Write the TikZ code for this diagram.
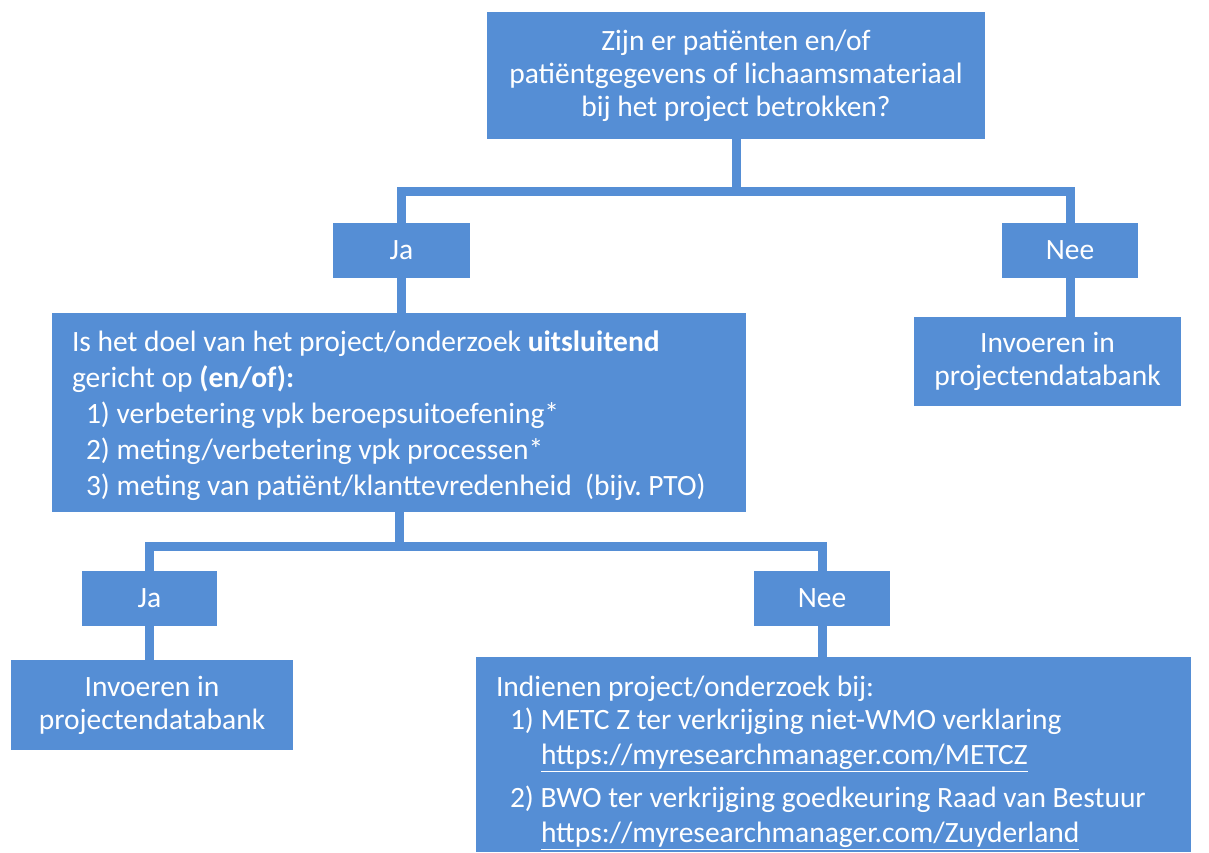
\documentclass[tikz,border=0pt]{standalone}
\usepackage{fontspec}
\setmainfont{Carlito}
\definecolor{boxblue}{HTML}{558ED5}

\begin{document}
\frenchspacing
\begin{tikzpicture}[x=1pt,y=-1pt,
  box/.style={rectangle,fill=boxblue,text=white,inner sep=0pt,font=\fontsize{29.5}{33}\selectfont},
  conn/.style={draw=boxblue,line width=9pt}]
\useasboundingbox (0,0) rectangle (1209,852);
\node[box,minimum width=498,minimum height=127,align=flush center] (top) at (736,75.5) {Zijn er patiënten en/of\\patiëntgegevens of lichaamsmateriaal\\bij het project betrokken?};
\node[box,minimum width=137,minimum height=55] (ja1) at (401.5,250.5) {Ja};
\node[box,minimum width=136,minimum height=55] (nee1) at (1070,250.5) {Nee};
\node[box,minimum width=267,minimum height=89,align=flush center] (inv1) at (1047.5,361.5) {Invoeren in\\projectendatabank};
\node[box,minimum width=694,minimum height=199,text width=654,align=flush left] (doel) at (399,412.5) {\rule{0pt}{28pt}Is het doel van het project/onderzoek \textbf{uitsluitend}\\[3pt]
gericht op \textbf{(en/of):}\\[3pt]
\hspace*{14pt}1) verbetering vpk beroepsuitoefening*\\[3pt]
\hspace*{14pt}2) meting/verbetering vpk processen*\\[3pt]
\hspace*{14pt}3) meting van patiënt/klanttevredenheid\ \ (bijv. PTO)};
\node[box,minimum width=135,minimum height=55] (ja2) at (149.5,598.5) {Ja};
\node[box,minimum width=136,minimum height=55] (nee2) at (822,598.5) {Nee};
\node[box,minimum width=282,minimum height=90,align=flush center] (inv2) at (152,705) {Invoeren in\\projectendatabank};
\node[box,minimum width=715,minimum height=195,text width=675,align=flush left] (ind) at (833.5,754.5) {\rule{0pt}{37pt}Indienen project/onderzoek bij:\\
\hspace*{14pt}1) METC Z ter verkrijging niet-WMO verklaring\\[2pt]
\hspace*{45pt}\underline{https://myresearchmanager.com/METCZ}\\[10pt]
\hspace*{14pt}2) BWO ter verkrijging goedkeuring Raad van Bestuur\\[2pt]
\hspace*{45pt}\underline{https://myresearchmanager.com/Zuyderland}};
\coordinate (fork1) at (736,191);
\coordinate (fork2) at (399,546);
\path[conn] (top.south) -- (fork1);
\path[conn] (ja1.north) |- (fork1) -| (nee1.north);
\path[conn] (ja1.south) -- (ja1.south |- doel.north);
\path[conn] (nee1.south) -- (nee1.south |- inv1.north);
\path[conn] (doel.south) -- (fork2);
\path[conn] (ja2.north) |- (fork2) -| (nee2.north);
\path[conn] (ja2.south) -- (ja2.south |- inv2.north);
\path[conn] (nee2.south) -- (nee2.south |- ind.north);
\end{tikzpicture}
\end{document}
